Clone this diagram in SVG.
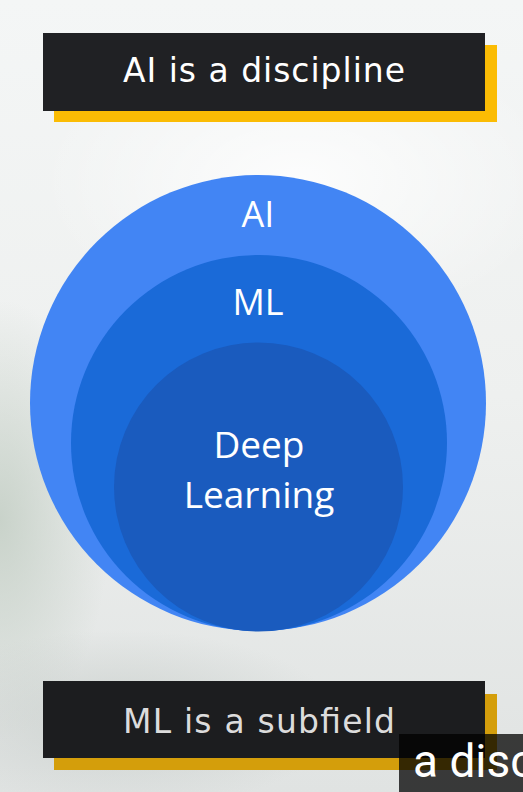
<svg xmlns="http://www.w3.org/2000/svg" width="523" height="792" viewBox="0 0 523 792">
  <defs>
    <linearGradient id="bg" x1="0" y1="0" x2="0" y2="1">
      <stop offset="0" stop-color="#F4F6F6"/>
      <stop offset="0.5" stop-color="#EEF0EF"/>
      <stop offset="1" stop-color="#E0E3E2"/>
    </linearGradient>
    <radialGradient id="blobL" cx="0.5" cy="0.5" r="0.5">
      <stop offset="0" stop-color="#C3CEC4" stop-opacity="0.85"/>
      <stop offset="1" stop-color="#C3CEC4" stop-opacity="0"/>
    </radialGradient>
    <radialGradient id="blobB" cx="0.5" cy="0.5" r="0.5">
      <stop offset="0" stop-color="#C8CECB" stop-opacity="0.8"/>
      <stop offset="1" stop-color="#C8CECB" stop-opacity="0"/>
    </radialGradient>
    <radialGradient id="blobW" cx="0.5" cy="0.5" r="0.5">
      <stop offset="0" stop-color="#FFFFFF" stop-opacity="0.8"/>
      <stop offset="1" stop-color="#FFFFFF" stop-opacity="0"/>
    </radialGradient>
    <style>
      .lbl { font-family: "Open Sans", "Liberation Sans", sans-serif; fill: #FFFFFF; text-anchor: middle; }
      .cap { font-family: "DejaVu Sans", "Open Sans", sans-serif; font-size: 33px; text-anchor: middle; }
      .black { fill: #202124; }
    </style>
  </defs>

  <!-- background -->
  <rect x="0" y="0" width="523" height="792" fill="url(#bg)"/>
  <ellipse cx="0" cy="520" rx="110" ry="220" fill="url(#blobL)"/>
  <ellipse cx="120" cy="720" rx="220" ry="90" fill="url(#blobB)"/>
  <ellipse cx="300" cy="180" rx="260" ry="150" fill="url(#blobW)"/>

  <g id="caption-top">
    <rect x="54" y="45" width="443" height="77" fill="#FBBC04"/>
    <rect x="43" y="33" width="442" height="78" class="black"/>
    <text class="cap" x="264" y="82" fill="#FFFFFF" textLength="282" lengthAdjust="spacing">AI is a discipline</text>
  </g>

  <g id="ai">
    <circle cx="258" cy="403" r="228" fill="#4285F4"/>
    <text class="lbl" x="258" y="227" font-size="36">AI</text>
  </g>

  <g id="ml">
    <circle cx="259" cy="443" r="188" fill="#1A6AD8"/>
    <text class="lbl" x="258" y="315" font-size="36">ML</text>
  </g>

  <g id="deep-learning">
    <circle cx="258.5" cy="487" r="144.5" fill="#1A5BBE"/>
    <text class="lbl" x="259" y="458" font-size="37">Deep</text>
    <text class="lbl" x="259" y="508" font-size="37">Learning</text>
  </g>

  <g id="connectors"/>

  <g id="caption-bottom">
    <rect x="54" y="694" width="443" height="76" fill="#D49E0B"/>
    <rect x="43" y="681" width="442" height="77" fill="#1C1D1F"/>
    <text class="cap" x="259" y="733" fill="#DCDCDC" textLength="272" lengthAdjust="spacing">ML is a subfield</text>
  </g>

  <g id="subtitle">
    <rect x="399" y="734" width="124" height="58" fill="#000000" fill-opacity="0.75"/>
    <text x="413" y="777" font-family="Roboto, 'Liberation Sans', sans-serif" font-size="46" fill="#FFFFFF">a disc</text>
  </g>
</svg>
